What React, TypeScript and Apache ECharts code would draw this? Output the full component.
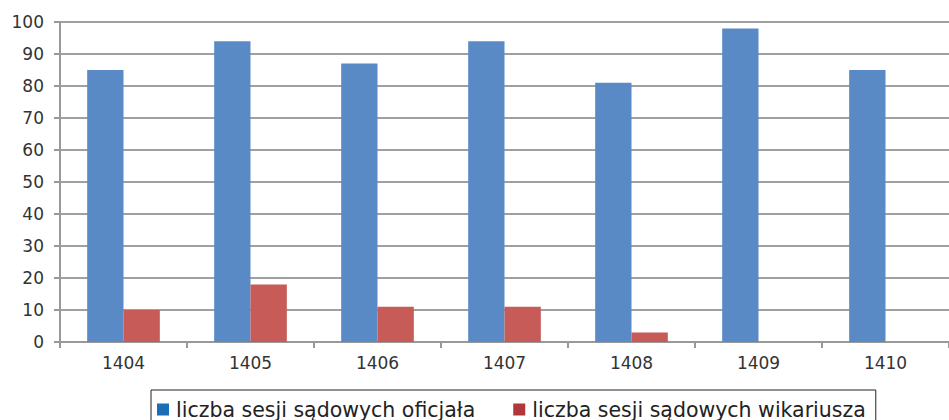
import React, { useEffect, useRef } from "react";
import * as echarts from "echarts";

const categories = ["1404", "1405", "1406", "1407", "1408", "1409", "1410"];
const oficjalValues = [85, 94, 87, 94, 81, 98, 85];
const wikariuszValues = [10, 18, 11, 11, 3, 0, 0];
const seriesNames = ["liczba sesji sądowych oficjała", "liczba sesji sądowych wikariusza"];

const FONT = "DejaVu Sans, Liberation Sans, Arial, sans-serif";

export default function App() {
  const ref = useRef<HTMLDivElement>(null);
  useEffect(() => {
    if (!ref.current) return;
    const chart = echarts.init(ref.current, null, { renderer: "svg" });
    chart.setOption({
      animation: false,
      textStyle: { fontFamily: FONT },
      grid: { left: 60, top: 22, width: 893, height: 320, containLabel: false },
      legend: {
        left: 151,
        top: 390,
        padding: [9, 10, 20, 6],
        borderColor: "#222",
        borderWidth: 1,
        itemWidth: 12,
        itemHeight: 12,
        itemGap: 38,
        icon: "rect",
        textStyle: { fontSize: 20.5, color: "#222", fontFamily: FONT, padding: [0, 0, 0, 2] },
        data: [
          { name: seriesNames[0], itemStyle: { color: "#1b6db4" } },
          { name: seriesNames[1], itemStyle: { color: "#b03838" } },
        ],
      },
      xAxis: {
        type: "category",
        data: categories,
        axisLine: { lineStyle: { color: "#999", width: 2 } },
        axisTick: { show: true, length: 6, lineStyle: { color: "#999", width: 2 } },
        axisLabel: { fontSize: 17, color: "#333", margin: 12 },
      },
      yAxis: {
        type: "value",
        min: 0,
        max: 100,
        interval: 10,
        axisLine: { show: true, lineStyle: { color: "#999", width: 2 } },
        axisTick: { show: true, length: 6, lineStyle: { color: "#999", width: 2 } },
        axisLabel: { fontSize: 17, color: "#333", margin: 16 },
        splitLine: { lineStyle: { color: "#a0a0a0", width: 2 } },
      },
      series: [
        {
          name: seriesNames[0],
          type: "bar",
          data: oficjalValues,
          barWidth: "28.6%",
          barGap: "0%",
          itemStyle: { color: "#5a8ac6" },
        },
        {
          name: seriesNames[1],
          type: "bar",
          data: wikariuszValues,
          barWidth: "28.6%",
          barGap: "0%",
          itemStyle: { color: "#c65b58" },
        },
      ],
    });
    return () => chart.dispose();
  }, []);
  return <div ref={ref} style={{ width: 949, height: 420, position: "absolute", left: 0, top: 0 }} />;
}
